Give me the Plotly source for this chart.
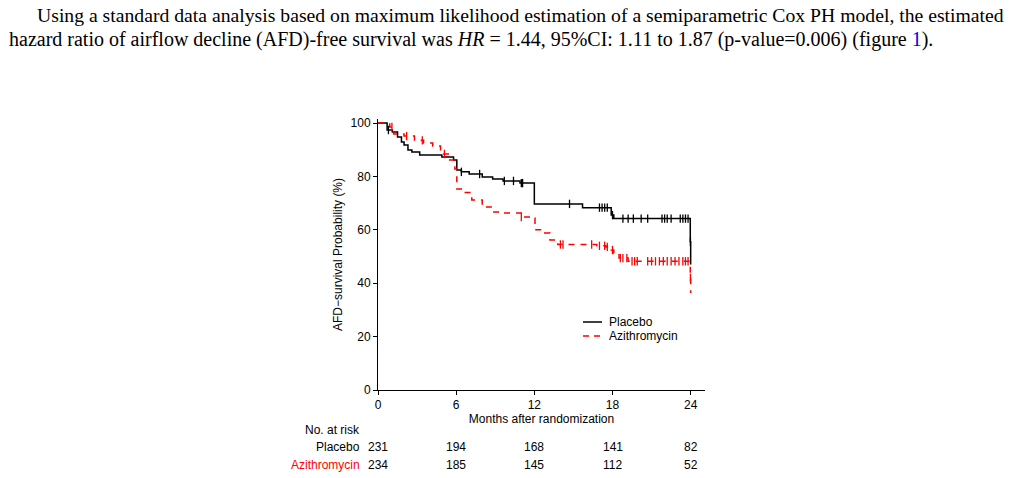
import numpy as np
import plotly.graph_objects as go

# Kaplan-Meier step points (months, % AFD-free)
placebo_t = [0, 0.7, 1.1, 1.5, 1.8, 2.0, 2.3, 2.6, 3.2, 4.9, 5.8, 6.05, 6.4, 7.0, 8.0, 8.8,
             9.6, 10.9, 12.0, 15.7, 17.9, 18.1, 23.97, 24.0]
placebo_s = [100, 97.4, 96.6, 94.8, 92.9, 91.8, 89.9, 89.1, 88.0, 87.3, 86.1, 82.4, 81.7, 80.9, 79.8, 79.0,
             78.3, 77.5, 69.7, 68.3, 65.5, 64.2, 55.5, 47.0]
placebo_cens = [0.8, 6.4, 7.8, 9.7, 10.4, 11.0, 11.1, 14.7, 17.0, 17.2, 17.4, 17.6, 18.0,
                18.8, 19.2, 19.6, 20.2, 20.7, 21.8, 22.0, 22.2, 22.5, 23.2, 23.4, 23.6, 23.8, 23.98]

azi_t = [0, 0.9, 1.2, 2.0, 2.8, 3.5, 4.2, 4.8, 5.5, 5.9, 6.05, 6.5, 7.2, 8.0, 8.8, 9.6, 11.0, 11.8,
         12.05, 12.6, 13.2, 13.8, 16.8, 17.5, 17.9, 18.1, 18.5, 19.2, 23.97, 24.0]
azi_s = [100, 98.5, 95.9, 95.1, 93.5, 92.5, 91.4, 88.4, 86.1, 82.8, 75.3, 74.0, 71.2, 68.5, 66.7, 66.3, 64.8, 64.4,
         60.0, 58.8, 56.2, 54.5, 54.0, 53.6, 52.4, 51.3, 49.4, 48.2, 42.0, 36.3]
azi_cens = [1.07, 2.2, 3.4, 5.1, 11.0, 14.0, 14.2, 16.4, 17.0, 17.4, 17.6, 18.0, 18.6, 18.8, 19.1,
            19.5, 19.7, 19.9, 20.7, 21.0, 21.3, 21.6, 21.9, 22.2, 22.5, 22.8, 23.1, 23.4, 23.6, 23.8, 23.98]

risk_times = [0, 6, 12, 18, 24]
risk_placebo = [231, 194, 168, 141, 82]
risk_azi = [234, 185, 145, 112, 52]

RED = "#ff0000"
SANS = "Liberation Sans, Arial, sans-serif"
SERIF = "Liberation Serif, Times New Roman, serif"
FS = 12

W, H = 1010, 478
L, R, T, B = 378, 705, 119, 390   # plot area in pixels


def px_x(p):
    return (p - L) / (R - L)


def px_y(p):
    return (B - p) / (B - T)


def step_at(ts, ss, c):
    idx = np.searchsorted(ts, c, side="right") - 1
    return [ss[i] for i in idx]


def label(text, x, y, xanchor="center", color="black", size=FS, family=SANS, xref="paper", **kw):
    return dict(text=text, x=x, y=y, xref=xref, yref="paper", xanchor=xanchor, yanchor="middle",
                showarrow=False, font=dict(family=family, size=size, color=color), **kw)


fig = go.Figure()

fig.add_trace(go.Scatter(x=placebo_t, y=placebo_s, mode="lines", line_shape="hv",
                         line=dict(color="black", width=1.5), name="Placebo", showlegend=False))
fig.add_trace(go.Scatter(x=azi_t, y=azi_s, mode="lines", line_shape="hv",
                         line=dict(color=RED, width=1.5, dash="6px,6px"), name="Azithromycin",
                         showlegend=False))

fig.add_trace(go.Scatter(x=placebo_cens, y=step_at(placebo_t, placebo_s, placebo_cens), mode="markers",
                         marker=dict(symbol="line-ns", size=6, line=dict(color="black", width=1.3)),
                         showlegend=False, hoverinfo="skip"))
fig.add_trace(go.Scatter(x=azi_cens, y=step_at(azi_t, azi_s, azi_cens), mode="markers",
                         marker=dict(symbol="line-ns", size=6, line=dict(color=RED, width=1.3)),
                         showlegend=False, hoverinfo="skip"))

annotations = []

# paragraph above the figure
annotations.append(label(
    "Using a standard data analysis based on maximum likelihood estimation of a semiparametric Cox PH model, the estimated",
    px_x(35), px_y(15), xanchor="left", size=19.7, family=SERIF))
annotations.append(label(
    "hazard ratio of airflow decline (AFD)-free survival was <i>HR</i> = 1.44, 95%CI: 1.11 to 1.87 "
    "(p-value=0.006) (figure <span style='color:#0000ee'>1</span>).",
    px_x(7), px_y(40), xanchor="left", size=20, family=SERIF))

# y axis title
annotations.append(label("AFD\u2212survival Probability (%)", px_x(338), px_y(255), textangle=-90))

# legend drawn by hand (compact spacing like the original)
legend_items = [("Placebo", "black", "solid", 322), ("Azithromycin", RED, "6px,5px", 336)]
shapes = []
for name, col, dash, py in legend_items:
    shapes.append(dict(type="line", xref="paper", yref="paper", x0=px_x(583), x1=px_x(602),
                       y0=px_y(py), y1=px_y(py), line=dict(color=col, width=1.5, dash=dash)))
    annotations.append(label(name, px_x(607), px_y(py), xanchor="left"))

# number at risk table
annotations.append(label("No. at risk", px_x(362), px_y(430), xanchor="right"))
annotations.append(label("Placebo", px_x(362), px_y(447), xanchor="right"))
annotations.append(label("Azithromycin", px_x(362), px_y(465), xanchor="right", color=RED))
for t, n1, n2 in zip(risk_times, risk_placebo, risk_azi):
    annotations.append(label(str(n1), t, px_y(447), xref="x"))
    annotations.append(label(str(n2), t, px_y(465), xref="x"))

fig.update_layout(
    width=W, height=H,
    margin=dict(l=L, r=W - R, t=T, b=H - B, pad=0),
    paper_bgcolor="white", plot_bgcolor="white",
    font=dict(family=SANS, size=FS, color="black"),
    annotations=annotations, shapes=shapes,
    showlegend=False,
    xaxis=dict(range=[0, 25.1], tickvals=risk_times, showline=True, linecolor="black", linewidth=1,
               ticks="outside", ticklen=4, tickcolor="black", showgrid=False, zeroline=False,
               title=dict(text="Months after randomization", font=dict(size=FS), standoff=3)),
    yaxis=dict(range=[0, 101.5], tickvals=[0, 20, 40, 60, 80, 100], showline=True, linecolor="black",
               linewidth=1, ticks="outside", ticklen=4, tickcolor="black", showgrid=False, zeroline=False),
)

# drop the page's default 8px body margin so the figure sits at the window corner
fig.write_html("out.html", config={"displayModeBar": False},
               post_script="document.body.style.margin='0px';")
